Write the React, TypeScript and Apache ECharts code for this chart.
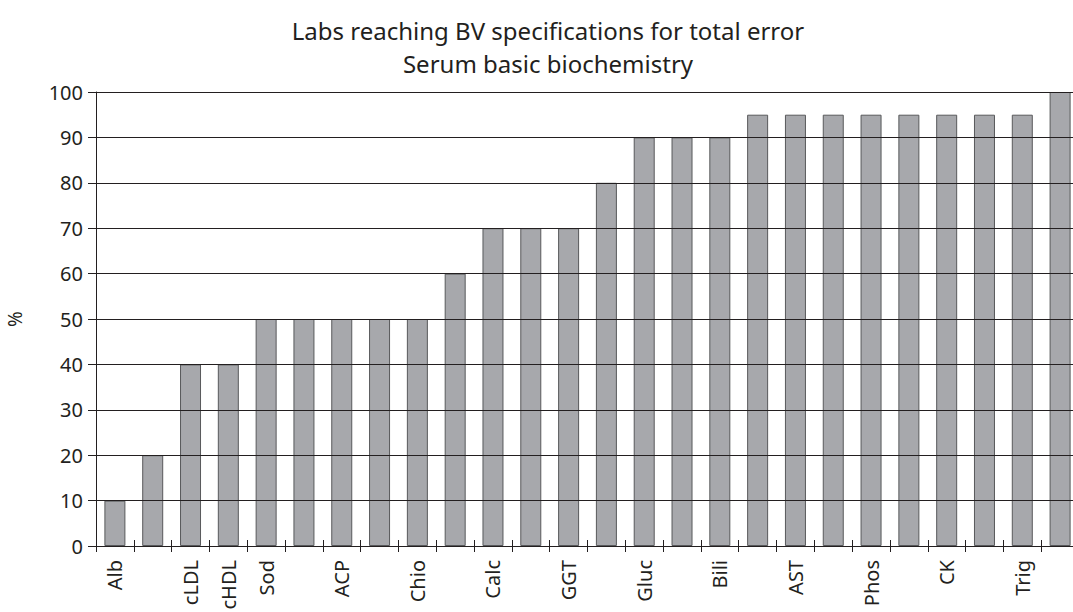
import React, { useEffect, useRef } from "react";
import * as echarts from "echarts";

const titleLines = ["Labs reaching BV specifications for total error", "Serum basic biochemistry"];
const categories = [
  "Alb", "", "cLDL", "cHDL", "Sod", "", "ACP", "", "Chio", "", "Calc", "", "GGT",
  "", "Gluc", "", "Bili", "", "AST", "", "Phos", "", "CK", "", "Trig", "",
];
const values = [
  10, 20, 40, 40, 50, 50, 50, 50, 50, 60, 70, 70, 70,
  80, 90, 90, 90, 95, 95, 95, 95, 95, 95, 95, 95, 100,
];
const yTicks = { min: 0, max: 100, interval: 10 };
const yName = "%";

const FONT = "'Noto Sans', 'Open Sans', sans-serif";
const INK = "#231f20";

export default function App() {
  const ref = useRef<HTMLDivElement>(null);
  useEffect(() => {
    if (!ref.current) return;
    const chart = echarts.init(ref.current, undefined, { renderer: "svg" });
    chart.setOption({
      animation: false,
      backgroundColor: "#ffffff",
      textStyle: { fontFamily: FONT, color: INK },
      title: {
        text: titleLines.join("\n"),
        left: 543,
        textAlign: "center",
        top: 9,
        textStyle: { fontFamily: FONT, fontSize: 24, fontWeight: "normal", color: INK, lineHeight: 33 },
      },
      grid: { left: 96, top: 92, bottom: 66, right: -6, containLabel: false, outerBoundsMode: "none" },
      xAxis: [
        {
          type: "category",
          data: categories,
          axisLine: { show: true, lineStyle: { color: INK, width: 1 } },
          axisTick: { show: true, interval: 0, length: 6, lineStyle: { color: INK } },
          axisLabel: { interval: 0, rotate: 90, fontSize: 20, color: INK, margin: 14, fontFamily: FONT },
        },
        {
          type: "category",
          data: categories,
          position: "bottom",
          axisLine: { show: false },
          axisTick: { show: true, inside: true, interval: 0, length: 6, lineStyle: { color: INK } },
          axisLabel: { show: false },
        },
      ],
      yAxis: {
        type: "value",
        min: yTicks.min,
        max: yTicks.max,
        interval: yTicks.interval,
        z: 5,
        name: yName,
        nameLocation: "middle",
        nameGap: 72,
        nameRotate: 90,
        nameTextStyle: { fontSize: 19, color: INK, fontFamily: FONT },
        axisLine: { show: true, lineStyle: { color: INK, width: 1 } },
        axisTick: { show: true, length: 8, lineStyle: { color: INK } },
        axisLabel: { fontSize: 20, color: INK, margin: 13, fontFamily: FONT },
        splitLine: { show: true, lineStyle: { color: INK, width: 1 } },
      },
      series: [
        {
          type: "bar",
          data: values,
          barWidth: 21,
          itemStyle: { color: "#a7a8ac", borderColor: "#58595b", borderWidth: 1 },
        },
      ],
    });
    return () => chart.dispose();
  }, []);
  return (
    <div
      ref={ref}
      style={{ position: "absolute", left: 0, top: 0, width: 1073, height: 612, overflow: "hidden" }}
    />
  );
}
